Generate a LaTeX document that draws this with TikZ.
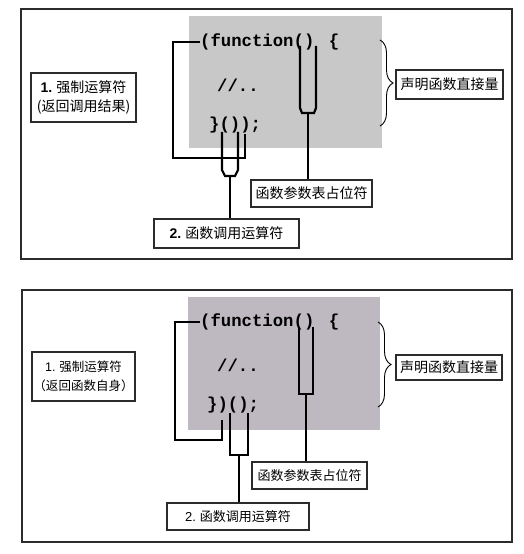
\documentclass[tikz,border=0pt]{standalone}
\usepackage{fontspec}
\setmainfont{Liberation Sans}
\newfontfamily\cjk{Noto Sans CJK SC}
\newfontfamily\codefont{Liberation Mono}
\usetikzlibrary{decorations.pathreplacing}
\definecolor{panelA}{HTML}{C8C8C8}
\definecolor{panelB}{HTML}{BEB9C1}
\definecolor{rim}{HTML}{2B2B2B}
\begin{document}
\begin{tikzpicture}[x=1bp,y=-1bp,line join=miter,
	frame/.style={draw=rim,line width=1.4bp},
	lbl/.style={draw=rim,line width=1.2bp,fill=white,inner sep=0pt,align=center,font=\cjk\fontsize{14bp}{19bp}\selectfont},
	code/.style={anchor=west,inner sep=0pt,font=\codefont\bfseries\fontsize{17.3bp}{20bp}\selectfont},
	link/.style={draw=black,line width=2.2bp},
	curly/.style={draw=black,line width=0.9bp,decorate,decoration={brace,amplitude=13bp}}]
	\useasboundingbox (0,0) rectangle (524,554);
	\fill[white] (0,0) rectangle (524,554);
	% upper panel
	\draw[frame] (21,9) rectangle (512,259);
	\fill[panelA] (189,16) rectangle (382,148);
	\node[code] (headA) at (200,42) {(function()\hspace{4bp} \{};
	\node[code] (bodyA) at (217,85) {//..};
	\node[code] (tailA) at (209,125) {\}());};
	\node[lbl,minimum width=105bp,minimum height=49bp] (forceA) at (83.5,97.5) {\textbf{\rmfamily 1.} 强制运算符\\(返回调用结果)};
	\node[lbl,minimum width=107bp,minimum height=29bp] (declA) at (449.5,84.5) {声明函数直接量};
	\node[lbl,minimum width=121bp,minimum height=27bp] (parboxA) at (311.5,193.5) {函数参数表占位符};
	\node[lbl,minimum width=145bp,minimum height=29bp] (callboxA) at (226.5,233.5) {\textbf{\rmfamily 2.} 函数调用运算符};
	\draw[link] (headA.west) -- (173,42) -- (173,158) -- (245,158) -- (245,134);
	\draw[link] (222,132) -- (222,170) -- (225,176) -- (235,176) -- (238,170) -- (238,132);
	\coordinate (callA) at (230,176);
	\draw[link] (callA) -- (callA |- callboxA.north);
	\draw[link] (300,46) -- (300,108) -- (302,113) -- (314,113) -- (316,108) -- (316,46);
	\coordinate (parA) at (308,113);
	\draw[link] (parA) -- (parA |- parboxA.north);
	\draw[curly] (380,40) -- (380,126);
	% lower panel
	\draw[frame] (22,290) rectangle (512,542);
	\fill[panelB] (188,297) rectangle (380,430);
	\node[code] (headB) at (200,322) {(function()\hspace{4bp} \{};
	\node[code] (bodyB) at (217,365) {//..};
	\node[code] (tailB) at (207,405) {\})();};
	\node[lbl,minimum width=103bp,minimum height=49bp,font=\cjk\fontsize{12.5bp}{19bp}\selectfont] (forceB) at (83.5,376.5) {{\rmfamily 1.} 强制运算符\\（返回函数自身）};
	\node[lbl,minimum width=106bp,minimum height=25bp] (declB) at (449,367.5) {声明函数直接量};
	\node[lbl,minimum width=115bp,minimum height=27bp,font=\cjk\fontsize{13bp}{17bp}\selectfont] (parboxB) at (309.5,475.5) {函数参数表占位符};
	\node[lbl,minimum width=142bp,minimum height=27bp,font=\cjk\fontsize{13bp}{17bp}\selectfont] (callboxB) at (238,516.5) {{\rmfamily 2.} 函数调用运算符};
	\draw[link] (headB.west) -- (175,322) -- (175,440) -- (222,440) -- (222,420);
	\draw[link] (230,413) -- (230,455) -- (248,455) -- (248,413);
	\coordinate (callB) at (239,455);
	\draw[link] (callB) -- (callB |- callboxB.north);
	\draw[link] (299,327) -- (299,394) -- (313,394) -- (313,327);
	\coordinate (parB) at (306,394);
	\draw[link] (parB) -- (parB |- parboxB.north);
	\draw[curly] (378,322) -- (378,407);
\end{tikzpicture}
\end{document}
